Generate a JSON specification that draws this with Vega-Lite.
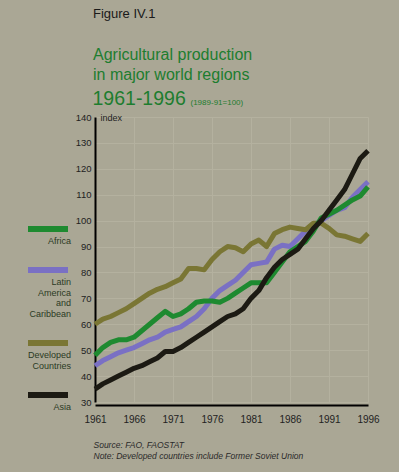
{
  "$schema": "https://vega.github.io/schema/vega-lite/v6.json",
  "width": 273,
  "height": 285,
  "autosize": {"type": "none"},
  "padding": {"left": 95, "top": 117, "right": 31, "bottom": 70},
  "background": "#aaa795",
  "title": {
    "text": "Figure IV.1",
    "subtitle": ["Agricultural production", "in major world regions"],
    "anchor": "start",
    "frame": "group",
    "orient": "top",
    "dx": -2,
    "font": "Liberation Sans",
    "fontSize": 13,
    "fontWeight": "normal",
    "color": "#1a1a1a",
    "subtitleFont": "Liberation Sans",
    "subtitleFontSize": 16,
    "subtitleColor": "#1d7d2f",
    "subtitleLineHeight": 20,
    "subtitlePadding": 26,
    "offset": 5
  },
  "data": {
    "values": [
      {"year": 1961, "Africa": 48, "Latin": 44, "Developed": 60, "Asia": 35},
      {"year": 1962, "Africa": 51, "Latin": 46, "Developed": 62, "Asia": 37},
      {"year": 1963, "Africa": 53, "Latin": 47.5, "Developed": 63, "Asia": 38.5},
      {"year": 1964, "Africa": 54, "Latin": 49, "Developed": 64.5, "Asia": 40},
      {"year": 1965, "Africa": 54, "Latin": 50, "Developed": 66, "Asia": 41.5},
      {"year": 1966, "Africa": 55, "Latin": 51, "Developed": 68, "Asia": 43},
      {"year": 1967, "Africa": 57.5, "Latin": 52.5, "Developed": 70, "Asia": 44},
      {"year": 1968, "Africa": 60, "Latin": 54, "Developed": 72, "Asia": 45.5},
      {"year": 1969, "Africa": 62.5, "Latin": 55, "Developed": 73.5, "Asia": 47},
      {"year": 1970, "Africa": 65, "Latin": 57, "Developed": 74.5, "Asia": 49.5},
      {"year": 1971, "Africa": 63, "Latin": 58, "Developed": 76, "Asia": 49.5},
      {"year": 1972, "Africa": 64, "Latin": 59, "Developed": 77.5, "Asia": 51},
      {"year": 1973, "Africa": 66, "Latin": 61, "Developed": 81.5, "Asia": 53},
      {"year": 1974, "Africa": 68.5, "Latin": 63, "Developed": 81.5, "Asia": 55},
      {"year": 1975, "Africa": 69, "Latin": 66, "Developed": 81, "Asia": 57},
      {"year": 1976, "Africa": 69, "Latin": 70, "Developed": 85, "Asia": 59},
      {"year": 1977, "Africa": 68.5, "Latin": 73, "Developed": 88, "Asia": 61},
      {"year": 1978, "Africa": 70, "Latin": 75, "Developed": 90, "Asia": 63},
      {"year": 1979, "Africa": 72, "Latin": 77, "Developed": 89.5, "Asia": 64},
      {"year": 1980, "Africa": 74, "Latin": 80, "Developed": 88, "Asia": 66},
      {"year": 1981, "Africa": 76, "Latin": 83, "Developed": 91, "Asia": 70},
      {"year": 1982, "Africa": 76, "Latin": 83.5, "Developed": 92.5, "Asia": 73},
      {"year": 1983, "Africa": 76, "Latin": 84, "Developed": 90, "Asia": 78},
      {"year": 1984, "Africa": 80, "Latin": 89, "Developed": 95, "Asia": 82},
      {"year": 1985, "Africa": 84, "Latin": 90.5, "Developed": 96.5, "Asia": 85},
      {"year": 1986, "Africa": 88, "Latin": 90, "Developed": 97.5, "Asia": 87},
      {"year": 1987, "Africa": 90, "Latin": 93, "Developed": 97, "Asia": 89},
      {"year": 1988, "Africa": 92, "Latin": 96, "Developed": 96.5, "Asia": 93},
      {"year": 1989, "Africa": 96, "Latin": 98, "Developed": 99, "Asia": 97},
      {"year": 1990, "Africa": 101, "Latin": 100, "Developed": 99, "Asia": 100},
      {"year": 1991, "Africa": 102.5, "Latin": 102, "Developed": 97, "Asia": 104},
      {"year": 1992, "Africa": 104, "Latin": 104, "Developed": 94.5, "Asia": 108},
      {"year": 1993, "Africa": 106, "Latin": 105, "Developed": 94, "Asia": 112},
      {"year": 1994, "Africa": 108, "Latin": 109, "Developed": 93, "Asia": 118},
      {"year": 1995, "Africa": 109.5, "Latin": 112, "Developed": 92, "Asia": 124},
      {"year": 1996, "Africa": 113, "Latin": 115, "Developed": 95, "Asia": 127}
    ]
  },
  "transform": [
    {"fold": ["Africa", "Latin", "Developed", "Asia"], "as": ["region", "index"]}
  ],
  "layer": [
    {
      "transform": [{"filter": {"field": "region", "oneOf": ["Developed", "Latin"]}}],
      "mark": {"type": "line", "strokeWidth": 5, "strokeJoin": "round"},
      "encoding": {
        "x": {
          "field": "year",
          "type": "quantitative",
          "scale": {"domain": [1961, 1996], "nice": false, "zero": false},
          "axis": {
            "orient": "bottom",
            "values": [1961, 1966, 1971, 1976, 1981, 1986, 1991, 1996],
            "format": "d",
            "offset": 3,
            "domainColor": "#000000",
            "domainWidth": 2,
            "ticks": false,
            "labelFont": "Liberation Sans",
            "labelFontSize": 10,
            "labelColor": "#222222",
            "labelPadding": 9,
            "labelOverlap": false,
            "labelFlush": false,
            "grid": true,
            "gridColor": "#b4b19f",
            "gridWidth": 1,
            "title": ["Source: FAO, FAOSTAT", "Note: Developed countries include Former Soviet Union"],
            "titleFont": "Liberation Sans",
            "titleFontSize": 8.5,
            "titleFontStyle": "italic",
            "titleFontWeight": "normal",
            "titleColor": "#2a2a2a",
            "titleX": -2,
            "titleY": 42,
            "titleAlign": "left",
            "titleAnchor": "start",
            "titleBaseline": "alphabetic",
            "titleLineHeight": 11
          }
        },
        "y": {
          "field": "index",
          "type": "quantitative",
          "scale": {"domain": [30, 140], "nice": false, "zero": false},
          "axis": {
            "orient": "left",
            "values": [30, 40, 50, 60, 70, 80, 90, 100, 110, 120, 130, 140],
            "domainColor": "#000000",
            "domainWidth": 2,
            "ticks": false,
            "labelFont": "Liberation Sans",
            "labelFontSize": 9.5,
            "labelColor": "#222222",
            "labelPadding": 4,
            "grid": true,
            "gridColor": "#b4b19f",
            "gridWidth": 1,
            "title": "index",
            "titleAngle": 0,
            "titleX": 5,
            "titleY": 0,
            "titleAlign": "left",
            "titleBaseline": "middle",
            "titleFont": "Liberation Sans",
            "titleFontSize": 9,
            "titleFontWeight": "normal",
            "titleColor": "#222222"
          }
        },
        "color": {
          "field": "region",
          "type": "nominal",
          "scale": {
            "domain": ["Africa", "Latin", "Developed", "Asia"],
            "range": ["#1e8a30", "#7a70c4", "#7a7634", "#1c1a13"]
          },
          "legend": {
            "orient": "none",
            "legendX": -70,
            "legendY": 97,
            "title": null,
            "symbolType": "M-1,-0.4L1,-0.4",
            "symbolSize": 1600,
            "symbolStrokeWidth": 6,
            "labelAlign": "right",
            "labelBaseline": "top",
            "labelOffset": 0,
            "labelFont": "Liberation Sans",
            "labelFontSize": 9,
            "labelColor": "#2b3a24",
            "labelLimit": 0,
            "rowPadding": 9,
            "padding": 0,
            "labelExpr": "datum.label == 'Latin' ? ['Latin','America','and','Caribbean'] : datum.label == 'Developed' ? ['Developed','Countries'] : datum.label",
            "encode": {"labels": {"update": {"lineHeight": {"value": 10.5}}}}
          }
        }
      }
    },
    {
      "transform": [{"filter": {"field": "region", "oneOf": ["Africa", "Asia"]}}],
      "mark": {"type": "line", "strokeWidth": 5, "strokeJoin": "round"},
      "encoding": {
        "x": {
          "field": "year",
          "type": "quantitative",
          "axis": {
            "orient": "top",
            "domain": false,
            "ticks": false,
            "labels": false,
            "grid": false,
            "title": "1961-1996",
            "titleFont": "Liberation Sans",
            "titleFontSize": 19.5,
            "titleFontWeight": "normal",
            "titleColor": "#1d7d2f",
            "titleX": -3,
            "titleY": -13,
            "titleAlign": "left",
            "titleAnchor": "start",
            "titleBaseline": "alphabetic"
          }
        },
        "y": {
          "field": "index",
          "type": "quantitative",
          "axis": {
            "orient": "right",
            "domain": false,
            "ticks": false,
            "labels": false,
            "grid": false,
            "title": "(1989-91=100)",
            "titleAngle": 0,
            "titleX": -178,
            "titleY": -13,
            "titleAlign": "left",
            "titleBaseline": "alphabetic",
            "titleFont": "Liberation Sans",
            "titleFontSize": 8,
            "titleFontWeight": "normal",
            "titleColor": "#1d7d2f"
          }
        },
        "color": {"field": "region", "type": "nominal"}
      }
    }
  ],
  "resolve": {"axis": {"x": "independent", "y": "independent"}},
  "config": {
    "view": {"stroke": null}
  }
}
